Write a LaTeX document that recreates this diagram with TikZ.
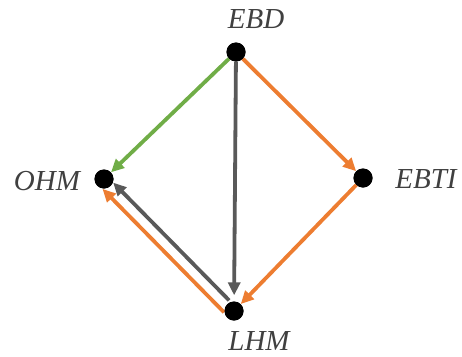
\documentclass[tikz,border=0pt]{standalone}
\usepackage{fontspec}
\setmainfont{Liberation Serif}
\usetikzlibrary{arrows.meta,calc}
\definecolor{edgegreen}{RGB}{112,173,71}
\definecolor{edgeorange}{RGB}{237,125,49}
\definecolor{edgegray}{RGB}{89,89,89}
\definecolor{labelgray}{RGB}{64,64,64}
\tikzset{
  vertex/.style={circle, fill=black, minimum size=19pt, inner sep=0pt},
  vlabel/.style={text=labelgray, font=\fontsize{29}{31}\selectfont\itshape, inner sep=0pt},
  edge/.style={line width=3.8pt, -{Triangle[length=13pt,width=12pt]}},
}
\begin{document}
\begin{tikzpicture}[x=1pt,y=-1pt]
  \useasboundingbox (0,0) rectangle (462,356);
  % vertices
  \node[vertex] (ebd)  at (236,52)  {};
  \node[vertex] (ohm)  at (104,179) {};
  \node[vertex] (ebti) at (363,178) {};
  \node[vertex] (lhm)  at (234,311) {};
  % labels
  \node[vlabel] (ebdlab)  at (256,19)  {EBD};
  \node[vlabel] (ohmlab)  at (47,181)  {OHM};
  \node[vlabel] (ebtilab) at (426,179) {EBTI};
  \node[vlabel] (lhmlab)  at (259,341) {LHM};
  % offset end points for the two parallel edges LHM -> OHM
  \coordinate (gs) at ($(lhm)!4pt!-90:(ohm)$);
  \coordinate (ge) at ($(ohm)!4pt!90:(lhm)$);
  \coordinate (os) at ($(lhm)!8pt!90:(ohm)$);
  \coordinate (oe) at ($(ohm)!8pt!-90:(lhm)$);
  % edges
  \draw[edge, edgegreen] (ebd) -- (ohm);
  \draw[edge, edgegray, shorten >=6pt] (ebd) -- (lhm);
  \draw[edge, edgeorange] (ebd) -- (ebti);
  \draw[edge, edgeorange] (ebti) -- (lhm);
  \draw[edge, edgegray, shorten <=11pt, shorten >=9pt] (gs) -- (ge);
  \draw[edge, edgeorange, shorten <=6pt, shorten >=6pt] (os) -- (oe);
  % redraw vertices on top of the line ends
  \foreach \v in {ebd,ohm,ebti,lhm} \fill (\v) circle (9.5pt);
\end{tikzpicture}
\end{document}
